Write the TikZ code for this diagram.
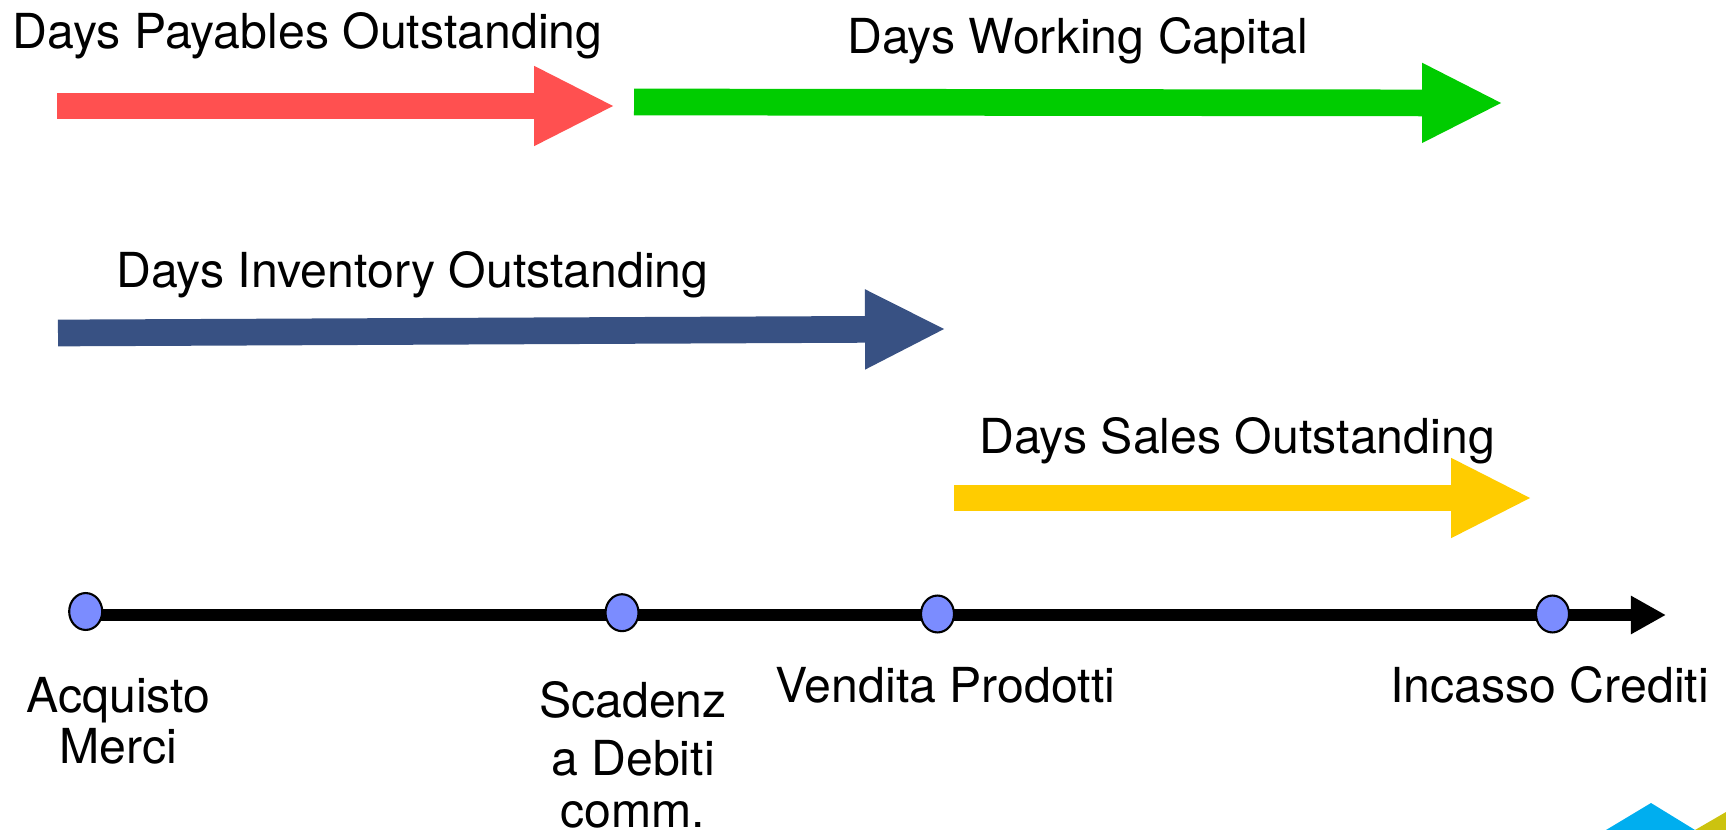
\documentclass[tikz,border=0pt]{standalone}
\usepackage{fontspec}
\setmainfont{TeX Gyre Heros}
\usetikzlibrary{arrows.meta,shapes.geometric,backgrounds}
\definecolor{cred}{HTML}{FF5050}
\definecolor{cgreen}{HTML}{00CC00}
\definecolor{cnavy}{HTML}{385183}
\definecolor{cyellow}{HTML}{FFCC00}
\definecolor{cdot}{HTML}{7B8CFF}
\definecolor{ccyan}{HTML}{00AEEF}
\definecolor{colive}{HTML}{CCC30F}
\tikzset{
  x=0.02cm,y=-0.02cm,
  blockarrow/.style={line width=15.2pt,-{Triangle[length=46.2pt,width=42pt]}},
  timeline/.style={black,line width=6.8pt,-{Triangle[length=20pt,width=20.5pt]}},
  dotnode/.style={ellipse,draw=black,line width=1.2pt,fill=cdot,minimum width=18.8pt,minimum height=21pt,inner sep=0pt},
  label/.style={inner sep=0pt,anchor=base west,font=\fontsize{27.45}{30}\selectfont},
  clabel/.style={inner sep=0pt,anchor=base,align=center}
}
\begin{document}
\begin{tikzpicture}
\useasboundingbox (0,0) rectangle (1726,830);
\fill[ccyan] (1606,830) -- (1651,803) -- (1695,830) -- cycle;
\fill[colive] (1695,830) -- (1726,812) -- (1726,830) -- cycle;
% block arrows
\coordinate (r0) at (57,106); \coordinate (r1) at (615.2,106);
\coordinate (g0) at (634,102); \coordinate (g1) at (1503.2,103);
\coordinate (n0) at (58,333); \coordinate (n1) at (946.2,329);
\coordinate (y0) at (954,498); \coordinate (y1) at (1532.2,498);
\draw[blockarrow,cred] (r0) -- (r1);
\draw[blockarrow,cgreen] (g0) -- (g1);
\draw[blockarrow,cnavy] (n0) -- (n1);
\draw[blockarrow,cyellow] (y0) -- (y1);
% timeline
\coordinate (tend) at (1666,615);
\node[dotnode] (d1) at (85.7,611.5) {};
\node[dotnode] (d2) at (622,612.7) {};
\node[dotnode] (d3) at (937.5,614) {};
\node[dotnode] (d4) at (1552.5,614) {};
\begin{scope}[on background layer]
\draw[timeline] (d1.center |- tend) -- (tend);
\end{scope}
% labels
\node[label] (t1) at (12.5,49) {Days Payables Outstanding};
\node[label] (t2) at (847,54) {Days Working Capital};
\node[label] (t3) at (116,288) {Days Inventory Outstanding};
\node[label] (t4) at (979,453.5) {Days Sales Outstanding};
\node[label] (t5) at (775,702) {Vendita Prodotti};
\node[label] (t6) at (1390,702) {Incasso Crediti};
\node[clabel,font=\fontsize{27.45}{29}\selectfont] (t7) at (118.5,763) {Acquisto\\Merci};
\node[clabel,font=\fontsize{27.45}{29.6}\selectfont] (t8) at (633,827) {Scadenz\\[3.4pt]a Debiti\\comm.};
\end{tikzpicture}
\end{document}
